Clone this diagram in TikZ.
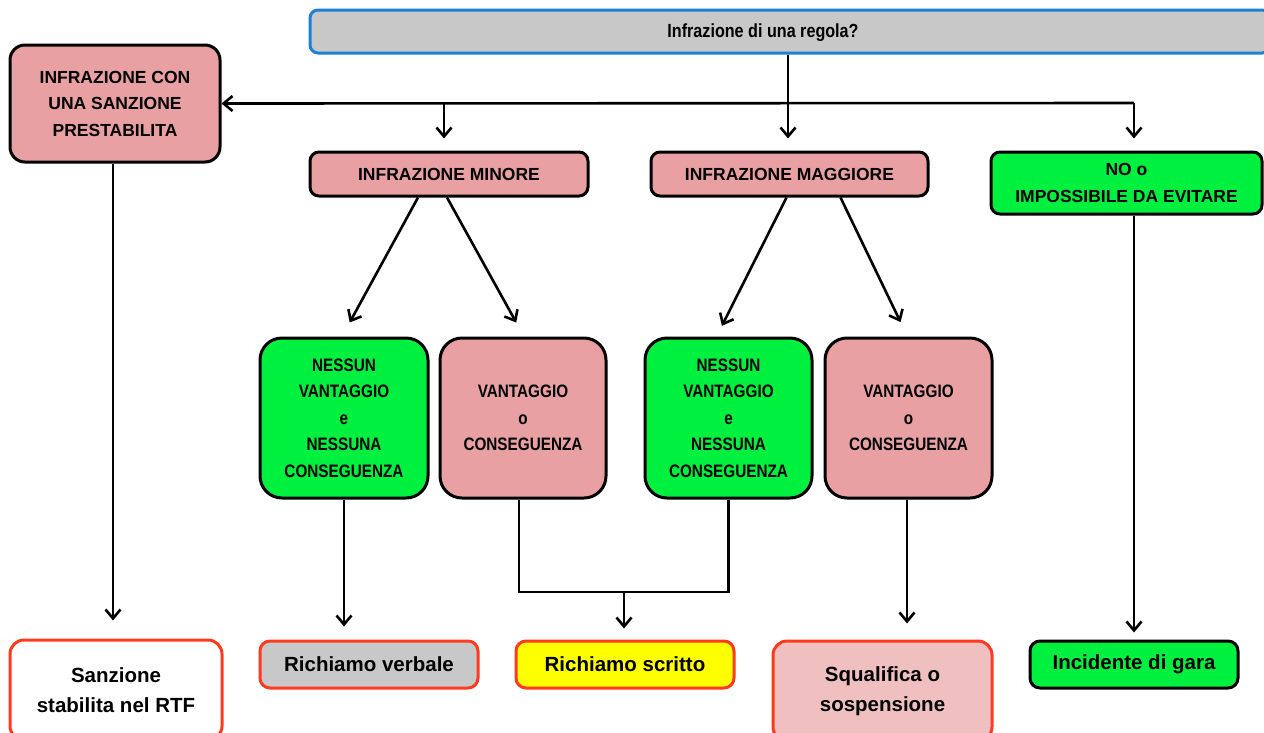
\documentclass[tikz,border=0pt]{standalone}
\usepackage{fontspec}
\setmainfont{Liberation Sans}
\newfontfamily\narrowfont[FakeStretch=0.85]{Liberation Sans}
\usetikzlibrary{arrows.meta}
\definecolor{pinkf}{HTML}{E8A0A3}
\definecolor{greenf}{HTML}{00F040}
\definecolor{grayf}{HTML}{C8C8C8}
\definecolor{blueb}{HTML}{1E80D2}
\definecolor{redb}{HTML}{FF3A1E}
\definecolor{lpink}{HTML}{F0C0C0}
\definecolor{yel}{HTML}{FFFF00}
\begin{document}
\begin{tikzpicture}[x=1pt,y=-1pt,
  sz/.style 2 args={minimum width=#1,minimum height=#2},
  box/.style={draw=black,line width=3pt,rounded corners=9pt,align=center,inner sep=0pt,
    font=\bfseries\fontsize{17.5}{26.5}\selectfont},
  bigbox/.style={box,rounded corners=22pt,font=\narrowfont\bfseries\fontsize{18}{26.5}\selectfont},
  outbox/.style={draw=redb,line width=3pt,rounded corners=10pt,align=center,inner sep=0pt,
    font=\bfseries\fontsize{20.5}{30}\selectfont},
  arr/.style={line width=2.6pt,-{Straight Barb[length=9pt,width=15pt,line width=2.6pt]}},
  ln/.style={line width=2.6pt}]
\useasboundingbox (0,0) rectangle (1264,732);
\clip (0,0) rectangle (1264,732);
% top question box
\node[draw=blueb,fill=grayf,line width=3pt,rounded corners=8pt,sz={960}{43}] (q) at (790,31.5) {};
\node[font=\narrowfont\bfseries\fontsize{19}{22}\selectfont] (qt) at (763,33) {Infrazione di una regola?};
% first level
\node[box,fill=pinkf,rounded corners=15pt,sz={210}{117}] (pre) at (115,103.5) {INFRAZIONE CON\\UNA SANZIONE\\PRESTABILITA};
\node[box,fill=pinkf,sz={278}{44}] (min) at (449,174) {INFRAZIONE MINORE};
\node[box,fill=pinkf,sz={277}{44}] (mag) at (789.5,174) {INFRAZIONE MAGGIORE};
\node[box,fill=greenf,sz={271}{62}] (no) at (1126.5,183) {NO o\\IMPOSSIBILE DA EVITARE};
% second level
\node[bigbox,fill=greenf,sz={168}{160}] (ng1) at (344,418) {NESSUN\\VANTAGGIO\\e\\NESSUNA\\CONSEGUENZA};
\node[bigbox,fill=pinkf,sz={166}{160}] (vc1) at (523,418) {VANTAGGIO\\o\\CONSEGUENZA};
\node[bigbox,fill=greenf,sz={167}{160}] (ng2) at (728.5,418) {NESSUN\\VANTAGGIO\\e\\NESSUNA\\CONSEGUENZA};
\node[bigbox,fill=pinkf,sz={167}{160}] (vc2) at (908.5,418) {VANTAGGIO\\o\\CONSEGUENZA};
% outcomes
\node[outbox,fill=white,rounded corners=14pt,sz={212}{100}] (san) at (116,690) {Sanzione\\stabilita nel RTF};
\node[outbox,fill=grayf,sz={218}{47}] (rv) at (369,664.5) {Richiamo verbale};
\node[outbox,fill=yel,sz={218}{47}] (rs) at (625,664.5) {Richiamo scritto};
\node[outbox,fill=lpink,rounded corners=14pt,sz={219}{100}] (sq) at (882.5,691) {Squalifica o\\sospensione};
\node[outbox,draw=black,fill=greenf,sz={208}{47}] (inc) at (1134,664.5) {Incidente di gara};
% connectors from the question
\coordinate (j) at (788,103);
\coordinate (jr) at (1134,103);
\coordinate (jl) at (444,103);
\draw[arr,shorten >=12pt] (q.south -| j) -- (j |- mag.north);
\draw[arr] (jr) -- (pre.east);
\draw[arr,shorten >=12pt] (jl) -- (jl |- min.north);
\draw[arr,shorten >=12pt] (jr) -- (jr |- no.north);
% diagonals
\draw[arr,shorten >=16pt] ([xshift=-31pt]min.south) -- ([xshift=-2pt]ng1.north);
\draw[arr,shorten >=16pt] ([xshift=-2pt]min.south) -- ([xshift=1pt]vc1.north);
\draw[arr,shorten >=12pt] ([xshift=-3pt]mag.south) -- ([xshift=-12pt]ng2.north);
\draw[arr,shorten >=16pt] ([xshift=51pt]mag.south) -- ([xshift=-1pt]vc2.north);
% down to outcomes
\draw[arr,shorten >=18pt] ([xshift=-2pt]pre.south) -- ([xshift=-2pt]pre.south |- san.north);
\draw[arr,shorten >=13pt] (ng1.south) -- (ng1.south |- rv.north);
\coordinate (m) at (624,592);
\draw[ln] ([xshift=-4pt]vc1.south) |- (m) -| (ng2.south);
\draw[arr,shorten >=11pt] (m) -- (m |- rs.north);
\draw[arr,shorten >=16pt] ([xshift=-1.5pt]vc2.south) -- ([xshift=-1.5pt]vc2.south |- sq.north);
\draw[arr,shorten >=7pt] (jr |- no.south) -- (jr |- inc.north);
\end{tikzpicture}
\end{document}
